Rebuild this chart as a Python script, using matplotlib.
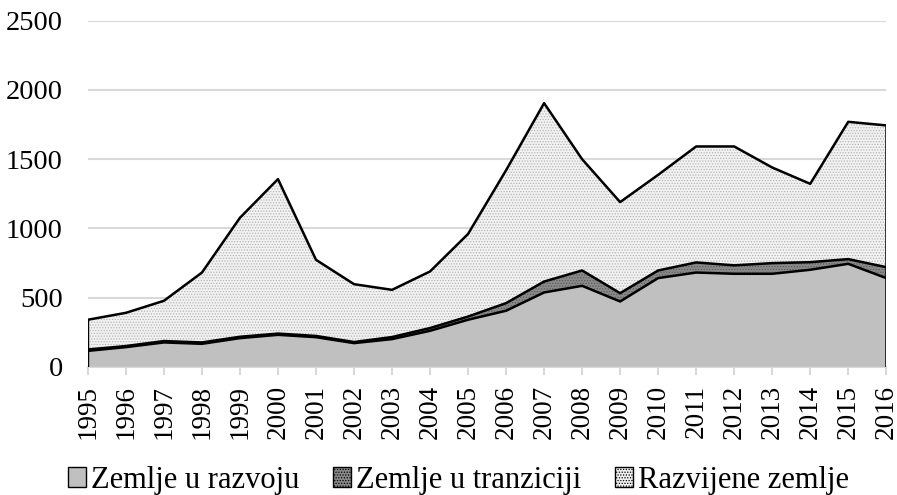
import matplotlib.pyplot as plt
import numpy as np
from matplotlib.patches import Patch

plt.rcParams['font.family'] = ['Liberation Serif', 'DejaVu Serif']
plt.rcParams['hatch.linewidth'] = 0.6

years = list(range(1995, 2017))
# cumulative boundaries
razvoj = [115, 142, 176, 166, 207, 231, 214, 171, 200, 260, 340, 405, 537, 585,
          472, 641, 681, 672, 672, 701, 744, 641]
tranzicija_top = [125, 150, 186, 176, 217, 240, 223, 179, 215, 280, 363, 460, 616, 696,
                  532, 696, 754, 733, 749, 756, 778, 720]
ukupno = [340, 390, 477, 681, 1077, 1356, 773, 597, 556, 689, 960, 1420, 1905, 1500,
          1190, 1387, 1592, 1592, 1440, 1322, 1770, 1744]
y_ticks = [0, 500, 1000, 1500, 2000, 2500]
legend_labels = ['Zemlje u razvoju', 'Zemlje u tranziciji', 'Razvijene zemlje']

fig = plt.figure(figsize=(8.97, 4.95), dpi=100)
ax = fig.add_axes([0.098, 0.259, 0.890, 0.699])

x = np.array(years)
zero = np.zeros(len(years))

ax.fill_between(x, tranzicija_top, ukupno, facecolor='#f2f2f2', edgecolor='#b5b5b5',
                hatch='......', linewidth=0, zorder=2)
ax.fill_between(x, razvoj, tranzicija_top, facecolor='#8a8a8a', edgecolor='#5a5a5a',
                hatch='......', linewidth=0, zorder=3)
ax.fill_between(x, zero, razvoj, facecolor='#c0c0c0', linewidth=0, zorder=4)

ax.plot(x, ukupno, color='black', linewidth=1.8, zorder=5)
ax.plot(x, tranzicija_top, color='black', linewidth=1.8, zorder=5)
ax.plot(x, razvoj, color='black', linewidth=1.8, zorder=5)
ax.plot([x[0], x[0]], [0, ukupno[0]], color='black', linewidth=1.0, zorder=5)
ax.plot([x[-1], x[-1]], [0, ukupno[-1]], color='black', linewidth=1.8, zorder=5)

ax.set_xlim(1995, 2016)
ax.set_ylim(0, 2500)
ax.set_yticks(y_ticks)
ax.set_xticks(years)
ax.set_xticklabels([str(y) for y in years], rotation=90)
ax.grid(axis='y', color='#d9d9d9', linewidth=1.5, zorder=0)
ax.set_axisbelow(True)
for s in ['top', 'right', 'left']:
    ax.spines[s].set_visible(False)
ax.spines['bottom'].set_color('#d9d9d9')
ax.spines['bottom'].set_linewidth(1.5)
ax.tick_params(axis='y', length=0, labelsize=20.5, pad=18)
ax.tick_params(axis='x', length=6, color='#d9d9d9', width=1.5, labelsize=19.5, pad=7)

handles = [
    Patch(facecolor='#c0c0c0', edgecolor='black', linewidth=1.0),
    Patch(facecolor='#8a8a8a', edgecolor='black', hatch='......', linewidth=1.0),
    Patch(facecolor='#f2f2f2', edgecolor='black', hatch='......', linewidth=1.0),
]
fig.legend(handles, legend_labels, loc='center', bbox_to_anchor=(0.511, 0.03), ncol=3,
           frameon=False, fontsize=22, handlelength=0.6, handleheight=0.6,
           handletextpad=0.15, columnspacing=1.1, borderaxespad=0)

fig.savefig('out.png', dpi=100)
